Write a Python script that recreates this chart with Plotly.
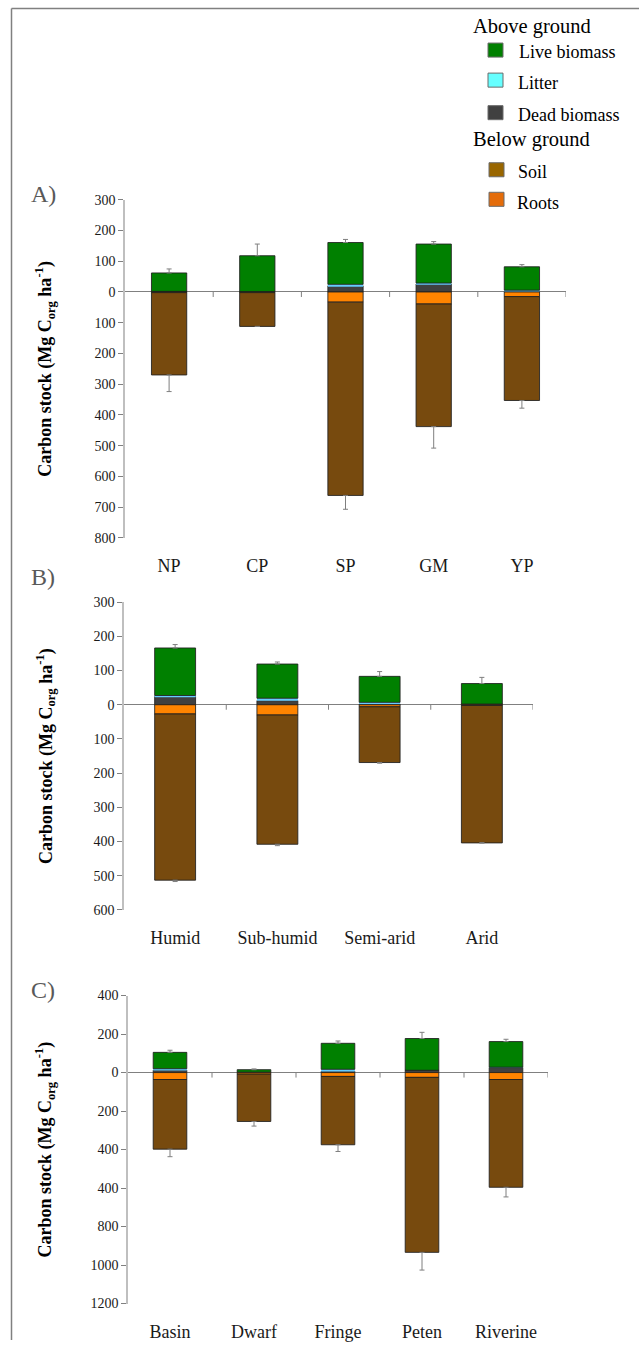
import plotly.graph_objects as go

W, H = 639, 1348

# ---------------- DATA ----------------
cats_A = ["NP", "CP", "SP", "GM", "YP"]
dead_A = [2, 1, 20, 26, 2]
litter_A = [0, 0, 5, 3, 4]
live_A = [60, 117, 136, 127, 76]
live_err_A = [13, 38, 10, 8, 7]
roots_A = [2, 2, 33, 39, 15]
soil_A = [268, 110, 629, 399, 338]
soil_err_A = [54, 0, 45, 70, 25]
yticks_A = [300, 200, 100, 0, -100, -200, -300, -400, -500, -600, -700, -800]
ytext_A = ["300", "200", "100", "0", "100", "200", "300", "400", "500", "600", "700", "800"]

cats_B = ["Humid", "Sub-humid", "Semi-arid", "Arid"]
dead_B = [24, 12, 2, 2]
litter_B = [3, 7, 5, 0]
live_B = [139, 100, 76, 60]
live_err_B = [10, 6, 14, 18]
roots_B = [27, 30, 6, 2]
soil_B = [486, 378, 163, 402]
soil_err_B = [4, 4, 2, 0]
yticks_B = [300, 200, 100, 0, -100, -200, -300, -400, -500, -600]
ytext_B = ["300", "200", "100", "0", "100", "200", "300", "400", "500", "600"]

cats_C = ["Basin", "Dwarf", "Fringe", "Peten", "Riverine"]
dead_C = [12, 2, 7, 12, 26]
litter_C = [8, 0, 10, 0, 2]
live_C = [85, 13, 135, 165, 133]
live_err_C = [11, 4, 12, 32, 12]
roots_C = [36, 8, 20, 25, 36]
soil_C = [362, 246, 355, 909, 560]
soil_err_C = [39, 24, 35, 92, 50]
yticks_C = [400, 200, 0, -200, -400, -600, -800, -1000, -1200]
ytext_C = ["400", "200", "0", "200", "400", "400", "800", "1000", "1200"]

# ---------------- STYLE ----------------
SERIF = "Liberation Serif"
COL = {
    "live": "#008000",
    "litter": "#66CCFF",
    "dead": "#404040",
    "soil": "#774A0E",
    "roots": "#FF8400",
}
LEG_COL = {
    "live": "#008000",
    "litter": "#66FFFF",
    "dead": "#404040",
    "soil": "#996600",
    "roots": "#E46C0A",
}
OUTLINE = "rgba(30,30,30,0.85)"
ERRC = "#7f7f7f"

# small vertical correction for how the page is photographed
Y_OFF, Y_SC = 7.5, 0.9873


def px_x(p):
    return p / W


def px_y(p):
    return 1 - ((p - Y_OFF) / Y_SC) / H


panels = [
    (cats_A, dead_A, litter_A, live_A, live_err_A, roots_A, soil_A, soil_err_A,
     yticks_A, ytext_A, (125, 566), (200, 537.5), (-800, 300), "A)", 194),
    (cats_B, dead_B, litter_B, live_B, live_err_B, roots_B, soil_B, soil_err_B,
     yticks_B, ytext_B, (124, 533), (601.7, 909), (-600, 300), "B)", 577),
    (cats_C, dead_C, litter_C, live_C, live_err_C, roots_C, soil_C, soil_err_C,
     yticks_C, ytext_C, (128, 548), (994.5, 1302), (-1200, 400), "C)", 989),
]

fig = go.Figure()
shapes = []
annotations = []

for i, (cats, dead, litter, live, live_err, roots, soil, soil_err,
        ytv, ytt, xd, yd, rng, lab, laby) in enumerate(panels, start=1):
    xa = "x" if i == 1 else f"x{i}"
    ya = "y" if i == 1 else f"y{i}"
    n = len(cats)
    common = dict(x=cats, xaxis=xa, yaxis=ya, width=0.4, showlegend=False,
                  hoverinfo="skip")
    fig.add_trace(go.Bar(y=dead, marker=dict(color=COL["dead"], line=dict(color=OUTLINE, width=1)),
                         name="Dead biomass", **common))
    fig.add_trace(go.Bar(y=litter, marker=dict(color=COL["litter"], line=dict(color=OUTLINE, width=0)),
                         name="Litter", **common))
    fig.add_trace(go.Bar(y=live, marker=dict(color=COL["live"], line=dict(color=OUTLINE, width=1)),
                         error_y=dict(type="data", array=live_err, arrayminus=[0] * n, symmetric=False,
                                      color=ERRC, thickness=1, width=2.5),
                         name="Live biomass", **common))
    fig.add_trace(go.Bar(y=[-r for r in roots], marker=dict(color=COL["roots"], line=dict(color=OUTLINE, width=1)),
                         name="Roots", **common))
    fig.add_trace(go.Bar(y=[-s for s in soil], marker=dict(color=COL["soil"], line=dict(color=OUTLINE, width=1)),
                         error_y=dict(type="data", array=[0] * n, arrayminus=soil_err, symmetric=False,
                                      color=ERRC, thickness=1, width=2.5),
                         name="Soil", **common))

    xkey = "xaxis" if i == 1 else f"xaxis{i}"
    ykey = "yaxis" if i == 1 else f"yaxis{i}"
    fig.layout[xkey] = dict(
        domain=[px_x(xd[0]), px_x(xd[1])], anchor=ya, range=[-0.5, n - 0.5],
        showline=False, ticks="", showgrid=False, zeroline=False,
        tickfont=dict(family=SERIF, size=18, color="#1a1a1a"),
        ticklabelstandoff=15, fixedrange=True,
    )
    fig.layout[ykey] = dict(
        domain=[px_y(yd[1]), px_y(yd[0])], anchor=xa, range=[rng[0], rng[1]],
        tickvals=ytv, ticktext=ytt, showgrid=False,
        showline=True, linecolor="#BFBFBF", linewidth=1.5,
        ticks="outside", ticklen=5, tickcolor="#808080", tickwidth=1,
        zeroline=True, zerolinecolor="#808080", zerolinewidth=1,
        tickfont=dict(family=SERIF, size=14, color="#1a1a1a"),
        fixedrange=True,
    )
    for k in range(n):
        shapes.append(dict(type="line", xref=xa, yref=ya, x0=k + 0.5, x1=k + 0.5,
                           ysizemode="pixel", yanchor=0, y0=0, y1=-5,
                           line=dict(color="#808080", width=1)))
    annotations.append(dict(
        text="<b>Carbon stock (Mg C<sub>org</sub> ha<sup>-1</sup>)</b>",
        xref="paper", yref="paper", x=px_x(45), y=px_y((yd[0] + yd[1]) / 2),
        xanchor="center", yanchor="middle", textangle=-90, showarrow=False,
        font=dict(family=SERIF, size=18, color="#000000")))
    annotations.append(dict(
        text=lab, xref="paper", yref="paper", x=px_x(29), y=px_y(laby),
        xanchor="left", yanchor="middle", showarrow=False,
        font=dict(family=SERIF, size=24, color="#595959")))

# frame lines
shapes.append(dict(type="line", xref="paper", yref="paper", x0=px_x(11.5), x1=px_x(11.5),
                   y0=0, y1=px_y(9), line=dict(color="#808080", width=1.5)))
shapes.append(dict(type="line", xref="paper", yref="paper", x0=px_x(11.5), x1=1,
                   y0=px_y(9), y1=px_y(9), line=dict(color="#808080", width=1.5)))

# legend (drawn manually)
leg_heads = [("Above ground", 27), ("Below ground", 140)]
for txt, yy in leg_heads:
    annotations.append(dict(text=txt, xref="paper", yref="paper", x=px_x(471), y=px_y(yy),
                            xanchor="left", yanchor="middle", showarrow=False,
                            font=dict(family=SERIF, size=20.5, color="#000000")))
leg_items = [("Live biomass", "live", 488, 50.5, 517, 52),
             ("Litter", "litter", 488, 80.5, 516, 83),
             ("Dead biomass", "dead", 488, 113, 516, 115),
             ("Soil", "soil", 489, 170, 516, 172),
             ("Roots", "roots", 489, 199.5, 515, 203)]
for txt, key, sx, sy, tx, ty in leg_items:
    shapes.append(dict(type="rect", xref="paper", yref="paper",
                       x0=px_x(sx), x1=px_x(sx + 15), y0=px_y(sy + 7), y1=px_y(sy - 7),
                       fillcolor=LEG_COL[key], line=dict(color="#6b6b6b", width=1)))
    annotations.append(dict(text=txt, xref="paper", yref="paper", x=px_x(tx), y=px_y(ty),
                            xanchor="left", yanchor="middle", showarrow=False,
                            font=dict(family=SERIF, size=18, color="#000000")))

fig.update_layout(
    width=W, height=H, autosize=False, margin=dict(l=0, r=0, t=0, b=0, pad=0),
    barmode="relative", bargap=0.6,
    paper_bgcolor="white", plot_bgcolor="white",
    font=dict(family=SERIF),
    shapes=shapes, annotations=annotations, showlegend=False,
)

POST = (
    "document.documentElement.style.margin='0';"
    "document.documentElement.style.padding='0';"
    "document.body.style.margin='0';document.body.style.padding='0';"
)

fig.write_html("out.html", config={"displayModeBar": False, "responsive": False},
               post_script=POST)
